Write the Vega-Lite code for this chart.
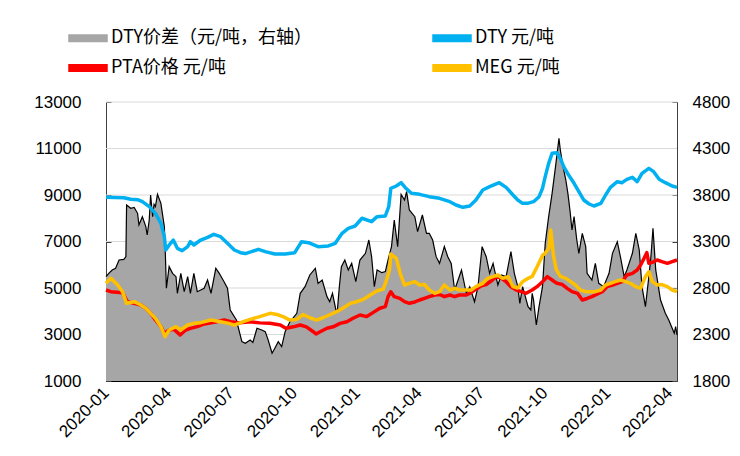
{
"$schema": "https://vega.github.io/schema/vega-lite/v6.json",
"width": 571, "height": 279,
"autosize": {"type": "none"},
"padding": {"left": 106, "top": 102, "right": 63, "bottom": 75},
"background": "#ffffff",
"config": {
  "view": {"stroke": null},
  "axis": {"labelFont": "Liberation Sans", "labelColor": "#000000", "domainColor": "#000000", "tickColor": "#000000", "grid": false, "zindex": 1},
  "axisX": {"format": "%Y-%m", "tickCount": {"interval": "month", "step": 3}, "labelAngle": -45, "labelFontSize": 17, "tickSize": -5, "labelPadding": 14, "labelAlign": "right", "labelBaseline": "middle"},
  "axisY": {"labelFontSize": 17, "tickSize": -5, "format": "d"},
  "legend": {"orient": "none", "legendX": -28.5, "legendY": -74.5, "columns": 2, "direction": "horizontal", "title": null,
    "labelFont": "Noto Sans CJK SC", "labelFontSize": 18, "labelColor": "#000000", "labelOffset": 12.5, "labelLimit": 400,
    "columnPadding": 117, "rowPadding": 10, "symbolSize": 361, "symbolType": "M-2,-0.33H2V0.33H-2Z", "padding": 0}
},
"datasets": {
"grid": [{"v": 2300}, {"v": 2800}, {"v": 3300}, {"v": 3800}, {"v": 4300}, {"v": 4800}],
"dty": [
{"d":"2020-01-01","v":8900},{"d":"2020-01-27","v":8880},{"d":"2020-02-06","v":8814},{"d":"2020-02-16","v":8800},{"d":"2020-02-23","v":8713},{"d":"2020-03-04","v":8498},{"d":"2020-03-13","v":8211},{"d":"2020-03-21","v":7781},{"d":"2020-03-26","v":7208},{"d":"2020-03-28","v":6634},{"d":"2020-04-04","v":6921},{"d":"2020-04-08","v":7064},{"d":"2020-04-14","v":6706},{"d":"2020-04-21","v":6606},{"d":"2020-04-29","v":6778},{"d":"2020-05-03","v":6993},{"d":"2020-05-08","v":6849},{"d":"2020-05-18","v":7064},{"d":"2020-05-28","v":7179},{"d":"2020-06-06","v":7308},{"d":"2020-06-16","v":7208},{"d":"2020-06-26","v":6921},{"d":"2020-07-06","v":6634},{"d":"2020-07-15","v":6520},{"d":"2020-07-22","v":6480},{"d":"2020-07-31","v":6563},{"d":"2020-08-10","v":6663},{"d":"2020-08-20","v":6563},{"d":"2020-09-03","v":6462},{"d":"2020-09-18","v":6462},{"d":"2020-10-02","v":6520},{"d":"2020-10-12","v":6993},{"d":"2020-10-22","v":6950},{"d":"2020-11-05","v":6778},{"d":"2020-11-20","v":6807},{"d":"2020-11-30","v":6921},{"d":"2020-12-10","v":7351},{"d":"2020-12-19","v":7566},{"d":"2020-12-29","v":7667},{"d":"2021-01-08","v":8000},{"d":"2021-01-22","v":7853},{"d":"2021-01-30","v":8068},{"d":"2021-02-11","v":8097},{"d":"2021-02-16","v":8500},{"d":"2021-02-19","v":9287},{"d":"2021-02-27","v":9387},{"d":"2021-03-06","v":9530},{"d":"2021-03-13","v":9287},{"d":"2021-03-21","v":9072},{"d":"2021-04-02","v":9029},{"d":"2021-04-16","v":8928},{"d":"2021-05-01","v":8857},{"d":"2021-05-16","v":8713},{"d":"2021-05-25","v":8570},{"d":"2021-06-04","v":8470},{"d":"2021-06-14","v":8527},{"d":"2021-06-23","v":8785},{"d":"2021-07-03","v":9215},{"d":"2021-07-13","v":9358},{"d":"2021-07-27","v":9530},{"d":"2021-08-06","v":9330},{"d":"2021-08-16","v":9000},{"d":"2021-08-23","v":8785},{"d":"2021-08-30","v":8642},{"d":"2021-09-06","v":8642},{"d":"2021-09-15","v":8713},{"d":"2021-09-23","v":8928},{"d":"2021-09-28","v":9287},{"d":"2021-10-02","v":9789},{"d":"2021-10-07","v":10362},{"d":"2021-10-12","v":10792},{"d":"2021-10-19","v":10821},{"d":"2021-10-24","v":10577},{"d":"2021-10-29","v":10219},{"d":"2021-11-05","v":9860},{"d":"2021-11-13","v":9502},{"d":"2021-11-20","v":9143},{"d":"2021-11-27","v":8785},{"d":"2021-12-05","v":8613},{"d":"2021-12-12","v":8527},{"d":"2021-12-22","v":8642},{"d":"2021-12-29","v":9000},{"d":"2022-01-05","v":9330},{"d":"2022-01-15","v":9573},{"d":"2022-01-22","v":9530},{"d":"2022-01-29","v":9674},{"d":"2022-02-06","v":9760},{"d":"2022-02-13","v":9573},{"d":"2022-02-20","v":9932},{"d":"2022-03-02","v":10147},{"d":"2022-03-09","v":10004},{"d":"2022-03-17","v":9674},{"d":"2022-03-26","v":9530},{"d":"2022-04-05","v":9387},{"d":"2022-04-12","v":9330}
],
"pta": [
{"d":"2020-01-01","v":4914},{"d":"2020-01-08","v":4842},{"d":"2020-01-25","v":4799},{"d":"2020-02-01","v":4412},{"d":"2020-02-11","v":4341},{"d":"2020-02-21","v":4269},{"d":"2020-02-28","v":4126},{"d":"2020-03-06","v":3910},{"d":"2020-03-13","v":3624},{"d":"2020-03-21","v":3337},{"d":"2020-03-26","v":3050},{"d":"2020-04-02","v":3194},{"d":"2020-04-09","v":3222},{"d":"2020-04-18","v":2978},{"d":"2020-04-26","v":3194},{"d":"2020-05-03","v":3265},{"d":"2020-05-13","v":3337},{"d":"2020-05-23","v":3452},{"d":"2020-06-02","v":3509},{"d":"2020-06-11","v":3552},{"d":"2020-06-21","v":3624},{"d":"2020-07-01","v":3552},{"d":"2020-07-14","v":3500},{"d":"2020-07-29","v":3550},{"d":"2020-08-12","v":3500},{"d":"2020-08-27","v":3480},{"d":"2020-09-11","v":3410},{"d":"2020-09-19","v":3270},{"d":"2020-09-30","v":3330},{"d":"2020-10-10","v":3410},{"d":"2020-10-19","v":3330},{"d":"2020-10-29","v":3120},{"d":"2020-11-02","v":3020},{"d":"2020-11-08","v":3120},{"d":"2020-11-18","v":3270},{"d":"2020-11-27","v":3330},{"d":"2020-12-07","v":3480},{"d":"2020-12-17","v":3550},{"d":"2020-12-26","v":3700},{"d":"2021-01-05","v":3840},{"d":"2021-01-15","v":3770},{"d":"2021-01-24","v":3940},{"d":"2021-02-03","v":4130},{"d":"2021-02-11","v":4200},{"d":"2021-02-15","v":4630},{"d":"2021-02-19","v":4840},{"d":"2021-02-24","v":4627},{"d":"2021-03-04","v":4556},{"d":"2021-03-11","v":4412},{"d":"2021-03-18","v":4341},{"d":"2021-03-26","v":4400},{"d":"2021-04-02","v":4484},{"d":"2021-04-09","v":4556},{"d":"2021-04-16","v":4627},{"d":"2021-04-24","v":4699},{"d":"2021-05-01","v":4720},{"d":"2021-05-08","v":4627},{"d":"2021-05-16","v":4699},{"d":"2021-05-23","v":4627},{"d":"2021-05-30","v":4700},{"d":"2021-06-09","v":4700},{"d":"2021-06-16","v":4800},{"d":"2021-06-23","v":4950},{"d":"2021-07-01","v":5100},{"d":"2021-07-08","v":5150},{"d":"2021-07-15","v":5300},{"d":"2021-07-23","v":5487},{"d":"2021-07-30","v":5416},{"d":"2021-08-06","v":5272},{"d":"2021-08-13","v":5057},{"d":"2021-08-21","v":4914},{"d":"2021-08-28","v":4842},{"d":"2021-09-04","v":4771},{"d":"2021-09-13","v":4914},{"d":"2021-09-20","v":5057},{"d":"2021-09-28","v":5272},{"d":"2021-10-05","v":5487},{"d":"2021-10-12","v":5344},{"d":"2021-10-19","v":5201},{"d":"2021-10-27","v":5150},{"d":"2021-11-03","v":4986},{"d":"2021-11-10","v":4842},{"d":"2021-11-18","v":4771},{"d":"2021-11-25","v":4484},{"d":"2021-12-02","v":4550},{"d":"2021-12-09","v":4627},{"d":"2021-12-24","v":4842},{"d":"2021-12-31","v":5057},{"d":"2022-01-08","v":5129},{"d":"2022-01-15","v":5200},{"d":"2022-01-22","v":5272},{"d":"2022-01-29","v":5559},{"d":"2022-02-06","v":5631},{"d":"2022-02-13","v":5774},{"d":"2022-02-18","v":5989},{"d":"2022-02-23","v":6276},{"d":"2022-02-27","v":6520},{"d":"2022-03-02","v":6061},{"d":"2022-03-07","v":6100},{"d":"2022-03-14","v":6204},{"d":"2022-03-21","v":6133},{"d":"2022-03-29","v":6061},{"d":"2022-04-05","v":6133},{"d":"2022-04-12","v":6204}
],
"meg": [
{"d":"2020-01-01","v":5201},{"d":"2020-01-08","v":5416},{"d":"2020-01-18","v":5129},{"d":"2020-01-25","v":4842},{"d":"2020-01-31","v":4341},{"d":"2020-02-11","v":4412},{"d":"2020-02-21","v":4269},{"d":"2020-02-28","v":4126},{"d":"2020-03-06","v":3910},{"d":"2020-03-13","v":3695},{"d":"2020-03-21","v":3337},{"d":"2020-03-27","v":2907},{"d":"2020-04-02","v":3194},{"d":"2020-04-12","v":3337},{"d":"2020-04-19","v":3194},{"d":"2020-04-29","v":3409},{"d":"2020-05-08","v":3480},{"d":"2020-05-18","v":3509},{"d":"2020-06-02","v":3624},{"d":"2020-06-16","v":3552},{"d":"2020-06-28","v":3480},{"d":"2020-07-06","v":3400},{"d":"2020-07-19","v":3550},{"d":"2020-07-29","v":3650},{"d":"2020-08-12","v":3770},{"d":"2020-08-27","v":3910},{"d":"2020-09-06","v":3860},{"d":"2020-09-15","v":3770},{"d":"2020-09-25","v":3620},{"d":"2020-10-05","v":3650},{"d":"2020-10-14","v":3860},{"d":"2020-10-24","v":3720},{"d":"2020-11-03","v":3620},{"d":"2020-11-12","v":3720},{"d":"2020-11-23","v":3860},{"d":"2020-12-02","v":3980},{"d":"2020-12-11","v":4130},{"d":"2020-12-22","v":4340},{"d":"2020-12-31","v":4410},{"d":"2021-01-10","v":4510},{"d":"2021-01-20","v":4700},{"d":"2021-01-30","v":4880},{"d":"2021-02-08","v":4950},{"d":"2021-02-12","v":5270},{"d":"2021-02-17","v":5770},{"d":"2021-02-19","v":6462},{"d":"2021-02-27","v":6276},{"d":"2021-03-05","v":5600},{"d":"2021-03-11","v":5129},{"d":"2021-03-18","v":5201},{"d":"2021-03-26","v":5272},{"d":"2021-04-02","v":5129},{"d":"2021-04-09","v":5150},{"d":"2021-04-16","v":4914},{"d":"2021-04-24","v":4771},{"d":"2021-05-01","v":4842},{"d":"2021-05-08","v":5129},{"d":"2021-05-16","v":4914},{"d":"2021-05-23","v":4986},{"d":"2021-05-30","v":4914},{"d":"2021-06-09","v":4914},{"d":"2021-06-16","v":4914},{"d":"2021-06-23","v":5057},{"d":"2021-07-03","v":5201},{"d":"2021-07-10","v":5416},{"d":"2021-07-18","v":5487},{"d":"2021-07-25","v":5559},{"d":"2021-08-01","v":5416},{"d":"2021-08-09","v":5487},{"d":"2021-08-16","v":5057},{"d":"2021-08-23","v":5000},{"d":"2021-08-30","v":5272},{"d":"2021-09-07","v":5416},{"d":"2021-09-13","v":5500},{"d":"2021-09-20","v":5900},{"d":"2021-09-28","v":6400},{"d":"2021-10-02","v":6500},{"d":"2021-10-07","v":6700},{"d":"2021-10-10","v":7495},{"d":"2021-10-14","v":6400},{"d":"2021-10-18","v":5800},{"d":"2021-10-24","v":5500},{"d":"2021-11-01","v":5416},{"d":"2021-11-08","v":5272},{"d":"2021-11-15","v":5129},{"d":"2021-11-22","v":4914},{"d":"2021-11-30","v":4842},{"d":"2021-12-07","v":4842},{"d":"2021-12-14","v":4842},{"d":"2021-12-22","v":4914},{"d":"2021-12-29","v":5129},{"d":"2022-01-05","v":5201},{"d":"2022-01-12","v":5272},{"d":"2022-01-20","v":5344},{"d":"2022-01-27","v":5272},{"d":"2022-02-03","v":5201},{"d":"2022-02-11","v":5057},{"d":"2022-02-18","v":4986},{"d":"2022-02-25","v":5487},{"d":"2022-03-02","v":5702},{"d":"2022-03-07","v":5272},{"d":"2022-03-14","v":5129},{"d":"2022-03-21","v":5150},{"d":"2022-03-29","v":5057},{"d":"2022-04-05","v":4914},{"d":"2022-04-12","v":4842}
],
"spread": [
{"d":"2020-01-01","v":2922},{"d":"2020-01-05","v":2958},{"d":"2020-01-10","v":2994},{"d":"2020-01-15","v":3012},{"d":"2020-01-20","v":3101},{"d":"2020-01-27","v":3108},{"d":"2020-01-30","v":3137},{"d":"2020-01-31","v":3693},{"d":"2020-02-06","v":3657},{"d":"2020-02-11","v":3667},{"d":"2020-02-16","v":3603},{"d":"2020-02-18","v":3478},{"d":"2020-02-23","v":3567},{"d":"2020-02-28","v":3460},{"d":"2020-03-01","v":3370},{"d":"2020-03-04","v":3531},{"d":"2020-03-06","v":3800},{"d":"2020-03-09","v":3567},{"d":"2020-03-11","v":3700},{"d":"2020-03-13","v":3675},{"d":"2020-03-16","v":3807},{"d":"2020-03-21","v":3710},{"d":"2020-03-26","v":3460},{"d":"2020-03-27","v":3280},{"d":"2020-03-29","v":2797},{"d":"2020-04-02","v":3030},{"d":"2020-04-07","v":2958},{"d":"2020-04-12","v":2922},{"d":"2020-04-14","v":2743},{"d":"2020-04-19","v":2958},{"d":"2020-04-24","v":2760},{"d":"2020-04-29","v":2922},{"d":"2020-05-03","v":2743},{"d":"2020-05-08","v":2958},{"d":"2020-05-13","v":2760},{"d":"2020-05-23","v":2797},{"d":"2020-05-28","v":2886},{"d":"2020-06-02","v":2743},{"d":"2020-06-09","v":3012},{"d":"2020-06-14","v":2958},{"d":"2020-06-21","v":2868},{"d":"2020-06-26","v":2797},{"d":"2020-06-30","v":2563},{"d":"2020-07-09","v":2456},{"d":"2020-07-17","v":2223},{"d":"2020-07-22","v":2205},{"d":"2020-07-29","v":2241},{"d":"2020-08-02","v":2215},{"d":"2020-08-08","v":2367},{"d":"2020-08-15","v":2349},{"d":"2020-08-20","v":2331},{"d":"2020-08-24","v":2248},{"d":"2020-08-30","v":2098},{"d":"2020-09-03","v":2152},{"d":"2020-09-08","v":2223},{"d":"2020-09-13","v":2170},{"d":"2020-09-18","v":2330},{"d":"2020-09-25","v":2437},{"d":"2020-10-05","v":2528},{"d":"2020-10-10","v":2743},{"d":"2020-10-17","v":2814},{"d":"2020-10-24","v":2940},{"d":"2020-11-01","v":3012},{"d":"2020-11-05","v":2850},{"d":"2020-11-11","v":2886},{"d":"2020-11-18","v":2707},{"d":"2020-11-22","v":2653},{"d":"2020-11-26","v":2743},{"d":"2020-12-01","v":2564},{"d":"2020-12-03","v":2546},{"d":"2020-12-06","v":2814},{"d":"2020-12-09","v":3030},{"d":"2020-12-14","v":3101},{"d":"2020-12-19","v":2994},{"d":"2020-12-24","v":3065},{"d":"2020-12-30","v":2868},{"d":"2021-01-05","v":3101},{"d":"2021-01-13","v":3173},{"d":"2021-01-18","v":3316},{"d":"2021-01-22","v":3137},{"d":"2021-01-26","v":2814},{"d":"2021-01-30","v":2994},{"d":"2021-02-06","v":2965},{"d":"2021-02-11","v":2976},{"d":"2021-02-15","v":3101},{"d":"2021-02-20","v":3245},{"d":"2021-02-24","v":3531},{"d":"2021-03-01","v":3245},{"d":"2021-03-06","v":3807},{"d":"2021-03-11","v":3746},{"d":"2021-03-14","v":3836},{"d":"2021-03-18","v":3639},{"d":"2021-03-26","v":3567},{"d":"2021-03-30","v":3406},{"d":"2021-04-06","v":3585},{"d":"2021-04-12","v":3388},{"d":"2021-04-16","v":3388},{"d":"2021-04-21","v":3316},{"d":"2021-04-26","v":3137},{"d":"2021-05-01","v":3065},{"d":"2021-05-08","v":3245},{"d":"2021-05-13","v":3137},{"d":"2021-05-18","v":3065},{"d":"2021-05-23","v":2779},{"d":"2021-06-02","v":2994},{"d":"2021-06-09","v":2743},{"d":"2021-06-14","v":2814},{"d":"2021-06-21","v":2653},{"d":"2021-06-26","v":2814},{"d":"2021-07-02","v":3245},{"d":"2021-07-08","v":3137},{"d":"2021-07-13","v":2958},{"d":"2021-07-18","v":3065},{"d":"2021-07-25","v":2832},{"d":"2021-07-30","v":2940},{"d":"2021-08-06","v":2922},{"d":"2021-08-13","v":3191},{"d":"2021-08-18","v":2958},{"d":"2021-08-23","v":2814},{"d":"2021-08-26","v":2635},{"d":"2021-08-30","v":2814},{"d":"2021-09-07","v":2599},{"d":"2021-09-11","v":2564},{"d":"2021-09-13","v":2743},{"d":"2021-09-15","v":2671},{"d":"2021-09-19","v":2402},{"d":"2021-09-23","v":2599},{"d":"2021-09-28","v":2814},{"d":"2021-10-02","v":3280},{"d":"2021-10-07","v":3567},{"d":"2021-10-12","v":3818},{"d":"2021-10-17","v":4105},{"d":"2021-10-22","v":4409},{"d":"2021-10-24","v":4284},{"d":"2021-10-28","v":4105},{"d":"2021-11-01","v":3961},{"d":"2021-11-04","v":3818},{"d":"2021-11-07","v":3639},{"d":"2021-11-10","v":3424},{"d":"2021-11-13","v":3567},{"d":"2021-11-17","v":3316},{"d":"2021-11-20","v":3173},{"d":"2021-11-25","v":3388},{"d":"2021-11-30","v":3245},{"d":"2021-12-02","v":2958},{"d":"2021-12-09","v":2886},{"d":"2021-12-14","v":3065},{"d":"2021-12-19","v":2850},{"d":"2021-12-26","v":2814},{"d":"2022-01-03","v":2958},{"d":"2022-01-08","v":3173},{"d":"2022-01-15","v":3298},{"d":"2022-01-20","v":3119},{"d":"2022-01-25","v":2922},{"d":"2022-01-29","v":2994},{"d":"2022-02-06","v":3173},{"d":"2022-02-11","v":3388},{"d":"2022-02-16","v":3209},{"d":"2022-02-20","v":2814},{"d":"2022-02-25","v":2599},{"d":"2022-03-02","v":2922},{"d":"2022-03-05","v":3137},{"d":"2022-03-08","v":3442},{"d":"2022-03-12","v":2994},{"d":"2022-03-19","v":2671},{"d":"2022-03-26","v":2528},{"d":"2022-03-31","v":2456},{"d":"2022-04-08","v":2313},{"d":"2022-04-10","v":2384},{"d":"2022-04-12","v":2295}
]
},
"layer": [
  {
    "encoding": {
      "y": {"field": "v", "type": "quantitative", "title": null,
        "scale": {"domain": [1800, 4800], "nice": false, "zero": false},
        "axis": {"orient": "right", "values": [1800, 2300, 2800, 3300, 3800, 4300, 4800], "labelPadding": 20, "domainColor": "#404040", "tickColor": "#404040"}}
    },
    "layer": [
      {"data": {"name": "grid"}, "mark": {"type": "rule", "color": "#d9d9d9", "strokeWidth": 1}, "encoding": {}},
      {"data": {"name": "spread"}, "mark": {"type": "area", "opacity": 1, "color": "#a6a6a6"},
       "encoding": {
         "x": {"field": "d", "type": "temporal", "title": null, "scale": {"type": "utc", "domain": [{"year": 2020, "month": 1, "date": 1, "utc": true}, {"year": 2022, "month": 4, "date": 12, "utc": true}]}},
         "y2": {"datum": 1800},
         "color": {"datum": "DTY价差（元/吨，右轴）", "type": "nominal",
           "scale": {"domain": ["DTY价差（元/吨，右轴）", "DTY 元/吨", "PTA价格 元/吨", "MEG 元/吨"], "range": ["#a6a6a6", "#00b0f0", "#ff0000", "#ffc000"]}}
       }},
      {"data": {"name": "spread"}, "mark": {"type": "line", "color": "#000000", "strokeWidth": 1.2},
       "encoding": {
         "x": {"field": "d", "type": "temporal", "title": null, "scale": {"type": "utc", "domain": [{"year": 2020, "month": 1, "date": 1, "utc": true}, {"year": 2022, "month": 4, "date": 12, "utc": true}]}}
       }}
    ]
  },
  {
    "encoding": {
      "x": {"field": "d", "type": "temporal", "title": null, "scale": {"type": "utc", "domain": [{"year": 2020, "month": 1, "date": 1, "utc": true}, {"year": 2022, "month": 4, "date": 12, "utc": true}]}},
      "y": {"field": "v", "type": "quantitative", "title": null,
        "scale": {"domain": [1000, 13000], "nice": false, "zero": false},
        "axis": {"orient": "left", "values": [1000, 3000, 5000, 7000, 9000, 11000, 13000], "labelPadding": 30, "domainColor": "#404040", "tickColor": "#404040"}}
    },
    "layer": [
      {"data": {"name": "dty"}, "mark": {"type": "line", "strokeWidth": 3.5, "strokeJoin": "round"}, "encoding": {"color": {"datum": "DTY 元/吨", "type": "nominal"}}},
      {"data": {"name": "pta"}, "mark": {"type": "line", "strokeWidth": 3.5, "strokeJoin": "round"}, "encoding": {"color": {"datum": "PTA价格 元/吨", "type": "nominal"}}},
      {"data": {"name": "meg"}, "mark": {"type": "line", "strokeWidth": 3.5, "strokeJoin": "round"}, "encoding": {"color": {"datum": "MEG 元/吨", "type": "nominal"}}}
    ]
  }
],
"resolve": {"scale": {"y": "independent"}}
}
